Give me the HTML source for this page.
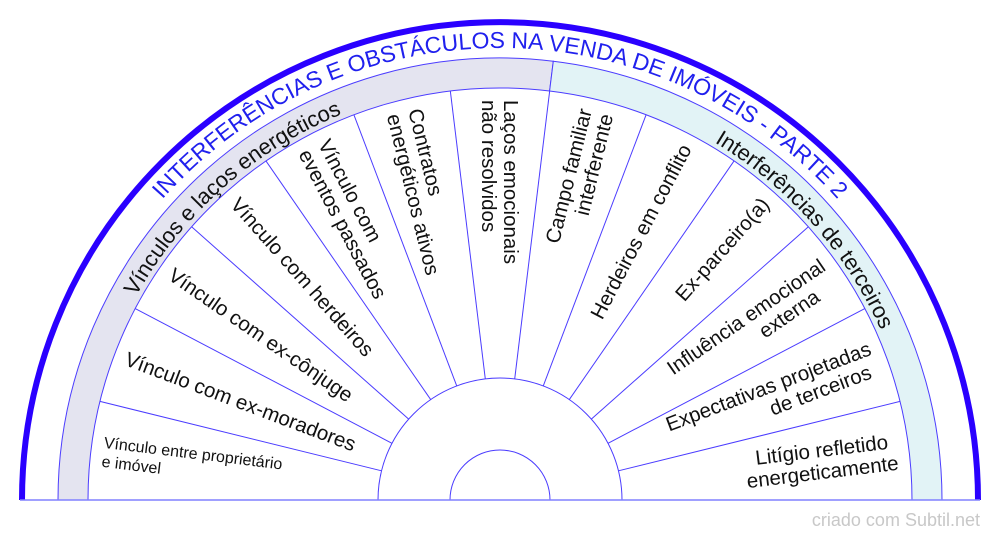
<!DOCTYPE html>
<html><head><meta charset="utf-8"><style>
html,body{margin:0;padding:0;background:#fff;}
svg{display:block;font-family:"Liberation Sans",Arial,sans-serif;}
</style></head><body>
<svg width="1000" height="540" viewBox="0 0 1000 540" xmlns="http://www.w3.org/2000/svg">
<defs>
<path id="tp" d="M 48 500 A 452 452 0 0 1 952 500"/>
<path id="lp" d="M 83 500 A 417 417 0 0 1 550.2 86"/>
<path id="rp" d="M 550.2 86 A 417 417 0 0 1 917 500"/>
</defs>
<path d="M 58 500 A 442 442 0 0 1 553.3 61.2 L 549.6 91 A 412 412 0 0 0 88 500 Z" fill="#e4e4f0" stroke="#4b3cff" stroke-width="1"/>
<path d="M 553.3 61.2 A 442 442 0 0 1 942 500 L 912 500 A 412 412 0 0 0 549.6 91 Z" fill="#e2f3f6" stroke="#4b3cff" stroke-width="1"/>
<path d="M 22 500 A 478 478 0 0 1 978 500" fill="none" stroke="#2a00ff" stroke-width="6"/>
<g transform="translate(500,500)" stroke="#4b3cff" stroke-width="1">
<line x1="122" x2="412" transform="rotate(-13.846)"/>
<line x1="122" x2="412" transform="rotate(-27.692)"/>
<line x1="122" x2="412" transform="rotate(-41.538)"/>
<line x1="122" x2="412" transform="rotate(-55.385)"/>
<line x1="122" x2="412" transform="rotate(-69.231)"/>
<line x1="122" x2="412" transform="rotate(-83.077)"/>
<line x1="122" x2="412" transform="rotate(-96.923)"/>
<line x1="122" x2="412" transform="rotate(-110.769)"/>
<line x1="122" x2="412" transform="rotate(-124.615)"/>
<line x1="122" x2="412" transform="rotate(-138.462)"/>
<line x1="122" x2="412" transform="rotate(-152.308)"/>
<line x1="122" x2="412" transform="rotate(-166.154)"/>
</g>
<path d="M 378 500 A 122 122 0 0 1 622 500" fill="#fff" stroke="#4b3cff" stroke-width="1"/>
<path d="M 450 500 A 50 50 0 0 1 550 500" fill="#fff" stroke="#4b3cff" stroke-width="1"/>
<line x1="20" y1="500" x2="980" y2="500" stroke="#8080ff" stroke-width="1.5"/>
<text font-size="23" fill="#2020ee"><textPath href="#tp" startOffset="50%" text-anchor="middle">INTERFERÊNCIAS E OBSTÁCULOS NA VENDA DE IMÓVEIS - PARTE 2</textPath></text>
<text font-size="22" fill="#111"><textPath href="#lp" startOffset="50%" text-anchor="middle">Vínculos e laços energéticos</textPath></text>
<text font-size="22" fill="#111"><textPath href="#rp" startOffset="50%" text-anchor="middle">Interferências de terceiros</textPath></text>
<g font-size="20.5" fill="#111">
<g transform="translate(500,500) rotate(-173.077) translate(400,0) rotate(180)" font-size="16">
<text x="0" y="-4">Vínculo entre proprietário</text><text x="0" y="15">e imóvel</text></g>
<g transform="translate(500,500) rotate(-159.231) translate(400,0) rotate(180)"><text x="0" y="7">Vínculo com ex-moradores</text></g>
<g transform="translate(500,500) rotate(-145.385) translate(400,0) rotate(180)"><text x="0" y="7">Vínculo com ex-cônjuge</text></g>
<g transform="translate(500,500) rotate(-131.538) translate(400,0) rotate(180)"><text x="0" y="7">Vínculo com herdeiros</text></g>
<g transform="translate(500,500) rotate(-117.692) translate(400,0) rotate(180)"><text x="0" y="-4">Vínculo com</text><text x="0" y="18">eventos passados</text></g>
<g transform="translate(500,500) rotate(-103.846) translate(400,0) rotate(180)"><text x="0" y="-4">Contratos</text><text x="0" y="18">energéticos ativos</text></g>
<g transform="translate(500,500) rotate(-90) translate(400,0) rotate(180)"><text x="0" y="-4">Laços emocionais</text><text x="0" y="18">não resolvidos</text></g>
<g transform="translate(500,500) rotate(-76.154) translate(400,0)" text-anchor="end"><text x="0" y="-4">Campo familiar</text><text x="0" y="18">interferente</text></g>
<g transform="translate(500,500) rotate(-62.308) translate(400,0)" text-anchor="end"><text x="0" y="7">Herdeiros em conflito</text></g>
<g transform="translate(500,500) rotate(-48.462) translate(400,0)" text-anchor="end"><text x="0" y="7">Ex-parceiro(a)</text></g>
<g transform="translate(500,500) rotate(-34.615) translate(400,0)" text-anchor="end"><text x="0" y="-4">Influência emocional</text><text x="-22" y="18">externa</text></g>
<g transform="translate(500,500) rotate(-20.769) translate(400,0)" text-anchor="end"><text x="0" y="-4">Expectativas projetadas</text><text x="-8" y="18">de terceiros</text></g>
<g transform="translate(500,500) rotate(-6.923) translate(400,0)" text-anchor="end"><text x="-8" y="-4">Litígio refletido</text><text x="0" y="18">energeticamente</text></g>
</g>
<text x="980" y="526" font-size="18" fill="#c8c8c8" text-anchor="end">criado com Subtil.net</text>
</svg>
</body></html>
